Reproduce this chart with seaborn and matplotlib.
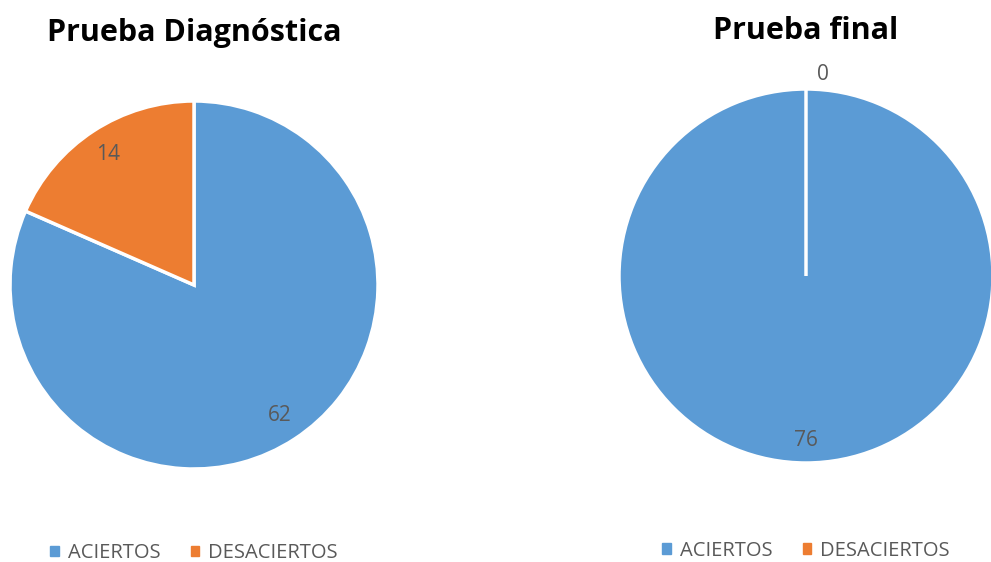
import numpy as np
import matplotlib
matplotlib.use("Agg")
import matplotlib.pyplot as plt
import seaborn as sns
from matplotlib.patches import Patch

sns.set_theme(style="white")
plt.rcParams["font.family"] = ["Open Sans", "DejaVu Sans"]

# --- datos ---
categorias = ["ACIERTOS", "DESACIERTOS"]
diagnostica = [62, 14]
final = [76, 0]
titulos = ["Prueba Diagnóstica", "Prueba final"]
colores = ["#5B9BD5", "#ED7D31"]
gris = "#595959"

W, H = 991, 562
fig = plt.figure(figsize=(W / 100, H / 100), dpi=100)


def eje_px(cx, cy, r):
    # ejes cuadrados centrados en (cx, cy) en pixeles
    return fig.add_axes([(cx - r) / W, (H - cy - r) / H, 2 * r / W, 2 * r / H])


def dibujar_pie(ax, valores, titulo, dist_in, titulo_y, leg_y):
    wedges, _ = ax.pie(valores, colors=colores, startangle=90, counterclock=False,
                       wedgeprops=dict(edgecolor="white", linewidth=2.5))
    ax.set_xlim(-1, 1)
    ax.set_ylim(-1, 1)
    ax.set_aspect("equal")
    ax.axis("off")
    for w, v in zip(wedges, valores):
        ang = np.deg2rad((w.theta1 + w.theta2) / 2)
        d = dist_in if v > 0 else 1.08
        dx = 0.09 if v == 0 else 0
        ax.text(d * np.cos(ang) + dx, d * np.sin(ang), str(v), ha="center", va="center",
                fontsize=15, color=gris)
    ax.text(0, titulo_y, titulo, ha="center", va="center", fontsize=22,
            fontweight="bold", color="black")
    handles = [Patch(color=c, label=l) for c, l in zip(colores, categorias)]
    ax.legend(handles=handles, loc="center", bbox_to_anchor=(0.5, leg_y), ncol=2,
              frameon=False, fontsize=14.5, labelcolor=gris, handlelength=0.42,
              handleheight=0.42, handletextpad=0.45, columnspacing=1.5)


ax1 = eje_px(194, 285, 184)
dibujar_pie(ax1, diagnostica, titulos[0], 0.85, 1.37, -0.229)

ax2 = eje_px(806, 276, 187)
dibujar_pie(ax2, final, titulos[1], 0.88, 1.31, -0.234)

fig.savefig("out.png", dpi=100)
